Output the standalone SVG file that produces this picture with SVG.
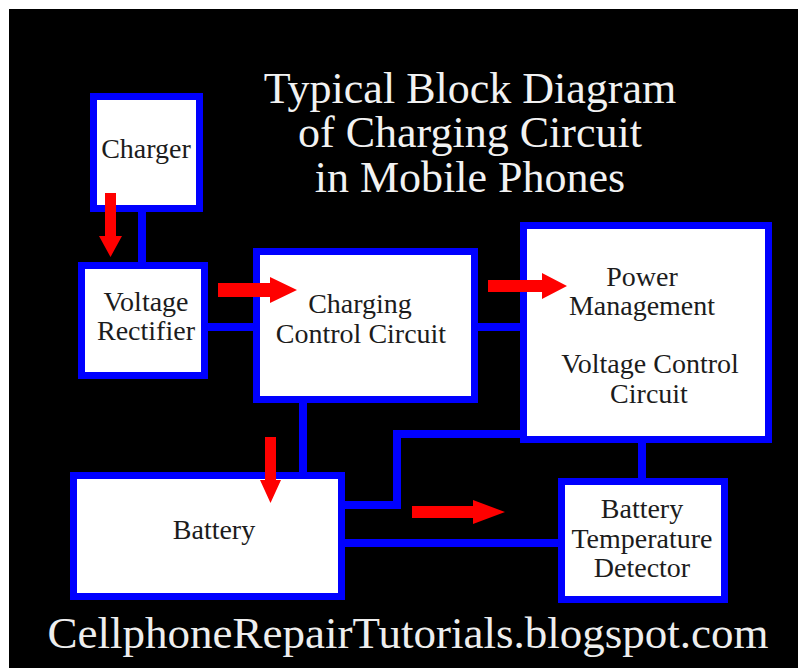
<svg xmlns="http://www.w3.org/2000/svg" width="798" height="668" viewBox="0 0 798 668">
<style>
.box{fill:#ffffff;stroke:#0000ff;stroke-width:7}
text{font-family:'Liberation Serif','Times New Roman','DejaVu Serif',Times,serif}
.lbl{font-size:28px;fill:#1c1c1c;text-anchor:middle}
.ttl{font-size:44px;fill:#f2f2f2;text-anchor:middle}
.ftr{font-size:45px;fill:#eeeeee;text-anchor:middle}
.wire{fill:none;stroke:#0000ff;stroke-width:8}
.arr{fill:#ff0000}
</style>
<rect x="0" y="0" width="798" height="668" fill="#ffffff"/>
<rect x="9" y="9" width="789" height="659" fill="#000000"/>
<g id="title" font-family="Liberation Serif, serif">
<text class="ttl" x="470" y="103">Typical Block Diagram</text>
<text class="ttl" x="470" y="147">of Charging Circuit</text>
<text class="ttl" x="470" y="192">in Mobile Phones</text>
</g>
<g id="connectors">
<path class="wire" d="M142,212 V262"/>
<path class="wire" d="M208,327 H253"/>
<path class="wire" d="M478,327 H520"/>
<path class="wire" d="M303,403 V472"/>
<path class="wire" d="M345,505 H397 V434 H520"/>
<path class="wire" d="M345,543 H558"/>
<path class="wire" d="M642,443 V478"/>
</g>
<g id="charger" font-family="Liberation Serif, serif">
<rect class="box" x="93.5" y="96.5" width="106" height="112"/>
<text class="lbl" x="146" y="158">Charger</text>
</g>
<g id="rectifier" font-family="Liberation Serif, serif">
<rect class="box" x="81.5" y="265.5" width="123" height="110"/>
<text class="lbl" x="146" y="311">Voltage</text>
<text class="lbl" x="146" y="340">Rectifier</text>
</g>
<g id="charging-control" font-family="Liberation Serif, serif">
<rect class="box" x="256.5" y="251.5" width="218" height="148"/>
<text class="lbl" x="360" y="313">Charging</text>
<text class="lbl" x="361" y="343">Control Circuit</text>
</g>
<g id="power-management" font-family="Liberation Serif, serif">
<rect class="box" x="523.5" y="225.5" width="245" height="214"/>
<text class="lbl" x="642" y="286">Power</text>
<text class="lbl" x="642" y="315">Management</text>
<text class="lbl" x="650" y="373">Voltage Control</text>
<text class="lbl" x="649" y="403">Circuit</text>
</g>
<g id="battery" font-family="Liberation Serif, serif">
<rect class="box" x="73.5" y="475.5" width="268" height="121"/>
<text class="lbl" x="214" y="539">Battery</text>
</g>
<g id="temp-detector" font-family="Liberation Serif, serif">
<rect class="box" x="561.5" y="481.5" width="163" height="118"/>
<text class="lbl" x="642" y="518">Battery</text>
<text class="lbl" x="642" y="548">Temperature</text>
<text class="lbl" x="642" y="577">Detector</text>
</g>
<g id="arrows">
<polygon class="arr" points="105,193 116,193 116,236 122,236 110.5,257 99,236 105,236"/>
<polygon class="arr" points="218,283 270,283 270,277 297,290 270,303 270,297 218,297"/>
<polygon class="arr" points="488,280 542,280 542,273 567,286 542,299 542,292 488,292"/>
<polygon class="arr" points="265,437 276,437 276,480 281,480 270.5,503 260,480 265,480"/>
<polygon class="arr" points="412,506 473,506 473,500 505,512 473,524 473,518 412,518"/>
</g>
<g id="footer" font-family="Liberation Serif, serif">
<text class="ftr" x="408" y="648">CellphoneRepairTutorials.blogspot.com</text>
</g>
</svg>
